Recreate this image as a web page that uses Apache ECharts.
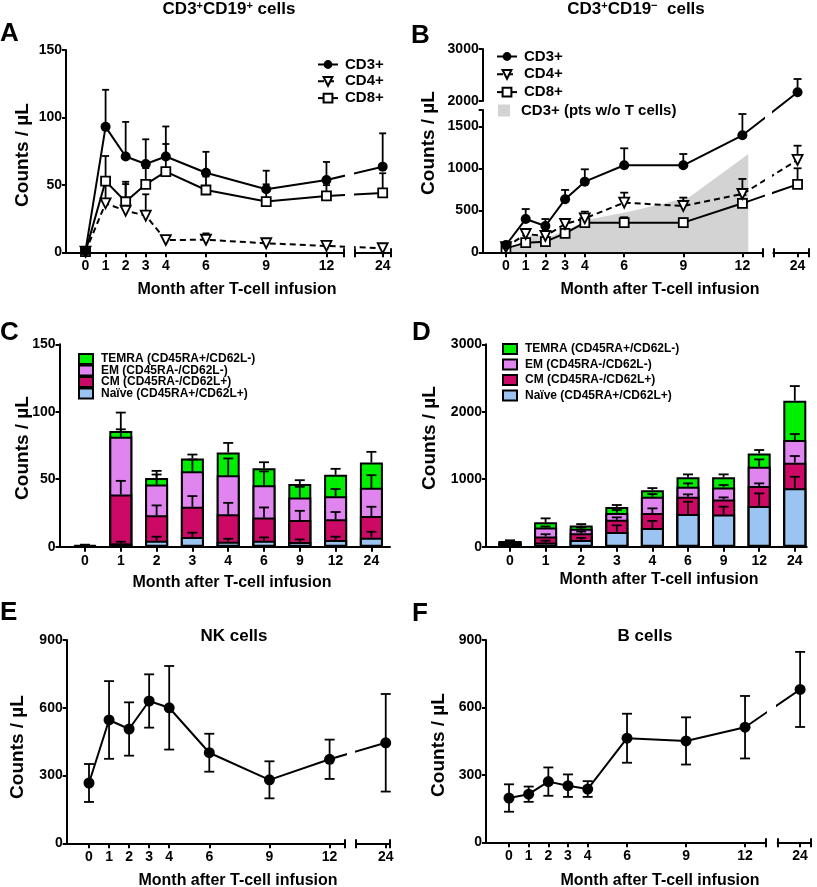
<!DOCTYPE html>
<html><head><meta charset="utf-8">
<script src="https://cdn.jsdelivr.net/npm/echarts@6/dist/echarts.min.js"></script>
<style>html,body{margin:0;padding:0;background:#fff}#c{width:817px;height:887px}</style>
</head><body><div id="c"></div>
<script>
// ---------------- DATA ----------------
const months = [0, 1, 2, 3, 4, 6, 9, 12, 24];
const monthLabels = ['0', '1', '2', '3', '4', '6', '9', '12', '24'];

// Panel A: CD3+CD19+ cells (mean, upper SEM)
const aCD3 = [1, 93, 71, 65.5, 71, 59, 46.7, 53.6, 63.5];
const aCD3sem = [0.5, 27.5, 25.7, 18.3, 22.3, 15.5, 13.8, 13.4, 24.7];
const aCD4 = [0.5, 36.3, 30.8, 27.2, 9.1, 9.3, 6.7, 4.7, 3];
const aCD4sem = [0.3, 17, 19.8, 15.8, 1, 4.7, 1.5, 1.5, 1];
const aCD8 = [0.5, 52.8, 37.5, 50.4, 59.8, 46.2, 37.6, 41.8, 44];
const aCD8sem = [0.3, 18.6, 14.8, 12, 20.5, 10, 12.8, 8, 14.6];

// Panel B: CD3+CD19- cells
const bCD3 = [87, 396, 313, 631, 841, 1036, 1036, 1393, 2167];
const bCD3sem = [20, 119, 83, 111, 147, 202, 134, 253, 256];
const bCD4 = [60, 218, 194, 337, 404, 591, 551, 694, 1099];
const bCD4sem = [15, 40, 30, 30, 80, 119, 100, 179, 170];
const bCD8 = [47, 115, 127, 226, 353, 353, 353, 583, 809];
const bCD8sem = [10, 20, 20, 30, 40, 64, 47, 100, 191];
const noTMonths = [0, 1, 2, 3, 4, 6, 9, 12];
const bNoT = [50, 210, 190, 290, 395, 485, 655, 1170];

// Panel C / D subsets (segment values, bottom to top) and upper SEM
const subsetNames = ['Naïve (CD45RA+/CD62L+)', 'CM (CD45RA-/CD62L+)', 'EM (CD45RA-/CD62L-)', 'TEMRA (CD45RA+/CD62L-)'];
const cNaive = [0.5, 2.5, 4.4, 7.2, 3.7, 4.4, 3.5, 5.0, 6.7];
const cCM    = [0.3, 36.2, 19.0, 22.4, 20.3, 17.3, 16.2, 15.3, 16.0];
const cEM    = [0.3, 42.7, 22.7, 26.4, 29.0, 23.9, 16.8, 17.0, 20.9];
const cTEMRA = [0.2, 4.4, 4.9, 9.4, 16.8, 12.6, 9.9, 16.0, 18.8];
const cNaiveSem = [0.1, 1.2, 3.0, 3.2, 2.2, 2.5, 1.9, 2.4, 4.4];
const cCMSem    = [0.1, 10.1, 7.2, 7.9, 8.5, 7.4, 6.9, 5.4, 6.9];
const cEMSem    = [0.1, 5.6, 7.4, 8.6, 12.4, 10.2, 7.9, 5.4, 9.4];
const cTEMRASem = [0.2, 13.6, 5.2, 2.9, 7.1, 4.4, 2.9, 4.4, 7.9];

const dNaive = [40, 64, 99, 218, 277, 484, 479, 603, 865];
const dCM    = [20, 86, 101, 182, 222, 257, 222, 296, 380];
const dEM    = [15, 135, 65, 100, 242, 148, 178, 287, 336];
const dTEMRA = [10, 76, 50, 90, 94, 139, 149, 197, 583];
const dNaiveSem = [5, 26, 31, 99, 105, 183, 114, 187, 172];
const dCMSem    = [5, 35, 25, 35, 69, 35, 30, 40, 99];
const dEMSem    = [5, 15, 20, 44, 39, 50, 35, 108, 89];
const dTEMRASem = [10, 59, 20, 28, 34, 44, 44, 50, 217];

// Panel E: NK cells, Panel F: B cells (mean, SEM both directions)
const eNK = [267, 546, 506, 630, 600, 401, 281, 372, 445];
const eNKsem = [84, 172, 118, 118, 185, 84, 82, 87, 216];
const fB = [197, 214, 270, 252, 237, 463, 451, 512, 680];
const fBsem = [61, 34, 63, 50, 35, 109, 105, 139, 167];

// ---------------- STYLE / LAYOUT ----------------
const FONT = '"Liberation Sans", Arial, Helvetica, sans-serif';
const BLACK = '#000';
const subsetColors = ['#9cc4f2', '#cc0a66', '#e085f0', '#00ee00'];
const AREA_NUDGE = 0.3;

// broken x axis: months beyond 12 are compressed
function xPos(m) { return m <= 12 ? m : 12 + (m - 12) * (2.8 / 12); }
function labelOf(v) {
  for (let i = 0; i < months.length; i++) if (Math.abs(xPos(months[i]) - v) < 1e-6) return monthLabels[i];
  return '';
}
// broken y axis in panel B (values above 2000 on a compressed upper segment)
function yB(v) { return v <= 1750 ? v : 1801 + (v - 2000) * 0.619; }

const L = {
  A: {axisX: 66, zeroX: 85.5, ppm: 20.08, seg1End: 344, seg2: [355, 391], top: 50, bottom: 252.3},
  B: {axisX: 482.7, zeroX: 506, ppm: 19.7, seg1End: 762.7, seg2: [773.3, 809], top: 49, bottom: 252.3},
  E: {axisX: 66.7, zeroX: 89, ppm: 20.05, seg1End: 345, seg2: [356, 390], top: 640, bottom: 843.3},
  F: {axisX: 486, zeroX: 509, ppm: 19.67, seg1End: 766, seg2: [777.7, 811], top: 640, bottom: 842.3},
  C: {axisX: 59.5, zeroX: 85, ppu: 35.8, right: 390, top: 344.3, bottom: 546.7},
  D: {axisX: 486, zeroX: 510, ppu: 35.6, right: 806.7, top: 344.3, bottom: 546.7}
};

const grid = [], xAxis = [], yAxis = [], series = [], graphic = [];
function addGrid(left, right, top, bottom) {
  grid.push({left: left, top: top, width: right - left, height: bottom - top, containLabel: false, outerBoundsMode: 'none'});
  return grid.length - 1;
}
function addX(o) { xAxis.push(o); return xAxis.length - 1; }
function addY(o) { yAxis.push(o); return yAxis.length - 1; }
const AXLINE = {show: true, onZero: false, lineStyle: {color: BLACK, width: 2}};
const TICKLS = {color: BLACK, width: 2};
const LBL = {color: BLACK, fontFamily: FONT, fontWeight: 'bold', fontSize: 14};
const plain = v => String(Math.round(v));

function hiddenX(g) { return addX({gridIndex: g, type: 'value', min: 0, max: 1, show: false}); }

function brokenPanel(P, yc) {
  const g1 = addGrid(P.axisX, P.seg1End, P.top, P.bottom);
  const g2 = addGrid(P.seg2[0], P.seg2[1], P.top, P.bottom);
  const toV = px => (px - P.zeroX) / P.ppm;
  const r1 = [toV(P.axisX), toV(P.seg1End)], r2 = [toV(P.seg2[0]), toV(P.seg2[1])];
  const early = months.filter(m => m <= 12).map(xPos);
  const late = months.filter(m => m > 12).map(xPos);
  const mk = (g, r, vals, ends) => addX({gridIndex: g, type: 'value', position: 'bottom', min: r[0], max: r[1],
    axisLine: AXLINE, splitLine: {show: false},
    axisTick: {show: true, length: 5, lineStyle: TICKLS, customValues: vals.concat(ends)},
    axisLabel: Object.assign({}, LBL, {margin: 7, customValues: vals, formatter: labelOf})});
  const inner = (g, r, ends) => addX({gridIndex: g, type: 'value', position: 'bottom', min: r[0], max: r[1],
    axisLine: {show: false}, splitLine: {show: false}, axisLabel: {show: false},
    axisTick: {show: true, inside: true, length: 4, lineStyle: TICKLS, customValues: ends}});
  const x1 = mk(g1, r1, early, [r1[1]]);
  const x2 = mk(g2, r2, late, [r2[0], r2[1]]);
  inner(g1, r1, [r1[1]]);
  inner(g2, r2, [r2[0], r2[1]]);
  const ybase = {type: 'value', min: yc.min, max: yc.max, splitLine: {show: false}, axisLine: AXLINE,
    axisTick: {show: true, length: 4, lineStyle: TICKLS}, axisLabel: Object.assign({}, LBL, {margin: 4, formatter: plain})};
  if (yc.interval) ybase.interval = yc.interval;
  const y1 = addY(Object.assign({gridIndex: g1, show: yc.show !== false}, ybase));
  const y2 = addY(Object.assign({gridIndex: g2, show: false}, ybase));
  return {x1, y1, x2, y2};
}

function errRender(capW, both) {
  return function (params, api) {
    const x = api.value(0);
    const pl = api.coord([x, api.value(1)]);
    const ph = api.coord([x, api.value(2)]);
    const st = () => ({stroke: BLACK, lineWidth: 1.8, fill: null});
    const ch = [
      {type: 'line', shape: {x1: pl[0], y1: pl[1], x2: ph[0], y2: ph[1]}, style: st()},
      {type: 'line', shape: {x1: ph[0] - capW / 2, y1: ph[1], x2: ph[0] + capW / 2, y2: ph[1]}, style: st()}
    ];
    if (both) ch.push({type: 'line', shape: {x1: pl[0] - capW / 2, y1: pl[1], x2: pl[0] + capW / 2, y2: pl[1]}, style: st()});
    return {type: 'group', children: ch};
  };
}

function lineSeries(ax, name, vals, style, ytf) {
  ytf = ytf || (v => v);
  const pts = months.map((m, i) => [xPos(m), ytf(vals[i])]);
  return [[ax.x1, ax.y1], [ax.x2, ax.y2]].map(p => Object.assign({
    type: 'line', name: name, xAxisIndex: p[0], yAxisIndex: p[1], data: pts, clip: true,
    z: 4, showAllSymbol: true, silent: true
  }, JSON.parse(JSON.stringify(style))));
}
function errSeries(ax, vals, sems, capW, both, ytf) {
  ytf = ytf || (v => v);
  const rows = months.map((m, i) => ({m: m, d: [xPos(m), ytf(both ? vals[i] - sems[i] : vals[i]), ytf(vals[i] + sems[i])]}));
  return [
    {type: 'custom', xAxisIndex: ax.x1, yAxisIndex: ax.y1, data: rows.filter(r => r.m <= 12).map(r => r.d), renderItem: errRender(capW, both), z: 3, silent: true},
    {type: 'custom', xAxisIndex: ax.x2, yAxisIndex: ax.y2, data: rows.filter(r => r.m > 12).map(r => r.d), renderItem: errRender(capW, both), z: 3, silent: true}
  ];
}

const S_CD3 = {symbol: 'circle', symbolSize: 10, itemStyle: {color: BLACK}, lineStyle: {color: BLACK, width: 2}};
const S_CD4 = {symbol: 'triangle', symbolRotate: 180, symbolSize: 10, itemStyle: {color: '#fff', borderColor: BLACK, borderWidth: 1.8}, lineStyle: {color: BLACK, width: 2, type: [6, 4]}};
const S_CD8 = {symbol: 'rect', symbolSize: 9, itemStyle: {color: '#fff', borderColor: BLACK, borderWidth: 1.8}, lineStyle: {color: BLACK, width: 2}};
const S_DOT = {symbol: 'circle', symbolSize: 11, itemStyle: {color: BLACK}, lineStyle: {color: BLACK, width: 2}};

// ---------- Panel A ----------
const axA = brokenPanel(L.A, {min: 0, max: 150, interval: 50});
series.push(...errSeries(axA, aCD8, aCD8sem, 7, false));
series.push(...errSeries(axA, aCD4, aCD4sem, 7, false));
series.push(...errSeries(axA, aCD3, aCD3sem, 7, false));
series.push(...lineSeries(axA, 'CD8+', aCD8, S_CD8));
series.push(...lineSeries(axA, 'CD4+', aCD4, S_CD4));
series.push(...lineSeries(axA, 'CD3+', aCD3, S_CD3));

// ---------- Panel B ----------
const axB = brokenPanel(L.B, {min: 0, max: yB(3000), show: false});
series.push({type: 'line', name: 'CD3+ (pts w/o T cells)', xAxisIndex: axB.x1, yAxisIndex: axB.y1,
  data: noTMonths.map((m, i) => [xPos(m) + AREA_NUDGE, bNoT[i]]), symbol: 'none', clip: true,
  lineStyle: {width: 0, color: '#d3d3d3'}, itemStyle: {color: '#d3d3d3'}, areaStyle: {color: '#d3d3d3', opacity: 1}, z: 1, silent: true});
series.push(...errSeries(axB, bCD8, bCD8sem, 8, false, yB));
series.push(...errSeries(axB, bCD4, bCD4sem, 8, false, yB));
series.push(...errSeries(axB, bCD3, bCD3sem, 8, false, yB));
series.push(...lineSeries(axB, 'CD8+', bCD8, S_CD8, yB));
series.push(...lineSeries(axB, 'CD4+', bCD4, S_CD4, yB));
series.push(...lineSeries(axB, 'CD3+', bCD3, S_CD3, yB));
// B: displayed broken y axis (two segments)
(function () {
  const lowTop = 110, upBottom = 101;
  const lowMax = (L.B.bottom - lowTop) / 0.084;
  const gLow = addGrid(L.B.axisX, L.B.axisX + 1, lowTop, L.B.bottom);
  const gUp = addGrid(L.B.axisX, L.B.axisX + 1, L.B.top, upBottom);
  hiddenX(gLow); hiddenX(gUp);
  const lowTicks = [0, 500, 1000, 1500];
  addY({gridIndex: gLow, type: 'value', min: 0, max: lowMax, axisLine: AXLINE, splitLine: {show: false},
    axisTick: {show: true, length: 4, lineStyle: TICKLS, customValues: lowTicks.concat([lowMax])},
    axisLabel: Object.assign({}, LBL, {margin: 4, customValues: lowTicks, formatter: plain})});
  addY({gridIndex: gLow, type: 'value', min: 0, max: lowMax, axisLine: {show: false}, splitLine: {show: false}, axisLabel: {show: false},
    axisTick: {show: true, inside: true, length: 4, lineStyle: TICKLS, customValues: [lowMax]}});
  addY({gridIndex: gUp, type: 'value', min: 2000, max: 3000, interval: 1000, axisLine: AXLINE, splitLine: {show: false},
    axisTick: {show: true, length: 4, lineStyle: TICKLS}, axisLabel: Object.assign({}, LBL, {margin: 4, formatter: plain})});
  addY({gridIndex: gUp, type: 'value', min: 2000, max: 3000, axisLine: {show: false}, splitLine: {show: false}, axisLabel: {show: false},
    axisTick: {show: true, inside: true, length: 4, lineStyle: TICKLS, customValues: [2000]}});
})();

// ---------- Panels C & D (stacked bars, drawn as overlapping cumulative bars) ----------
function barPanel(P, yMax, yInterval, segs, sems) {
  const g = addGrid(P.axisX, P.right, P.top, P.bottom);
  const toV = px => (px - P.zeroX) / P.ppu;
  const idx = months.map((m, i) => i);
  const x = addX({gridIndex: g, type: 'value', min: toV(P.axisX), max: toV(P.right), axisLine: AXLINE, splitLine: {show: false},
    axisTick: {show: true, length: 5, lineStyle: TICKLS, customValues: idx},
    axisLabel: Object.assign({}, LBL, {margin: 7, customValues: idx, formatter: v => monthLabels[Math.round(v)]})});
  const y = addY({gridIndex: g, type: 'value', min: 0, max: yMax, interval: yInterval, axisLine: AXLINE, splitLine: {show: false},
    axisTick: {show: true, length: 4, lineStyle: TICKLS}, axisLabel: Object.assign({}, LBL, {margin: 4, formatter: plain})});
  let run = idx.map(() => 0);
  const cums = [];
  const errData = [];
  segs.forEach((seg, k) => {
    run = run.map((r, i) => r + seg[i]);
    cums.push(run.slice());
    run.forEach((c, i) => errData.push([i, c, c + sems[k][i]]));
  });
  for (let k = segs.length - 1; k >= 0; k--) {
    series.push({type: 'bar', name: subsetNames[k], xAxisIndex: x, yAxisIndex: y, barWidth: 23, barGap: '-100%',
      data: cums[k].map((v, i) => [i, v]), itemStyle: {color: subsetColors[k], borderColor: BLACK, borderWidth: 2}, z: 2, silent: true});
  }
  series.push({type: 'custom', xAxisIndex: x, yAxisIndex: y, data: errData, renderItem: errRender(10, false), z: 5, silent: true});
}
barPanel(L.C, 150, 50, [cNaive, cCM, cEM, cTEMRA], [cNaiveSem, cCMSem, cEMSem, cTEMRASem]);
barPanel(L.D, 3000, 1000, [dNaive, dCM, dEM, dTEMRA], [dNaiveSem, dCMSem, dEMSem, dTEMRASem]);

// ---------- Panels E & F ----------
const axE = brokenPanel(L.E, {min: 0, max: 900, interval: 300});
series.push(...errSeries(axE, eNK, eNKsem, 10, true));
series.push(...lineSeries(axE, 'NK cells', eNK, S_DOT));
const axF = brokenPanel(L.F, {min: 0, max: 900, interval: 300});
series.push(...errSeries(axF, fB, fBsem, 10, true));
series.push(...lineSeries(axF, 'B cells', fB, S_DOT));

// ---------- Texts ----------
function T(text, x, y, size, extra) {
  const o = {type: 'text', x: x, y: y, z: 10, silent: true,
    style: {text: text, font: 'bold ' + size + 'px ' + FONT, fill: BLACK, align: 'center', verticalAlign: 'middle',
      textAlign: 'center', textVerticalAlign: 'middle'}};
  if (extra) { if (extra.style) Object.assign(o.style, extra.style); if (extra.rotation) o.rotation = extra.rotation; }
  graphic.push(o);
}
const supRich = {s: {fontSize: 11, fontWeight: 'bold', fontFamily: FONT, verticalAlign: 'top', lineHeight: 18}, n: {fontSize: 17, fontWeight: 'bold', fontFamily: FONT, lineHeight: 18}};
T('{n|CD3}{s|+}{n|CD19}{s|+}{n| cells}', 229, 9, 17, {style: {rich: supRich}});
T('{n|CD3}{s|+}{n|CD19}{s|−}{n|  cells}', 636, 9, 17, {style: {rich: supRich}});
const letters = [['A', 0, 34], ['B', 411, 35.5], ['C', 0, 333], ['D', 412, 332.5], ['E', 0, 613], ['F', 412, 614]];
letters.forEach(l => T(l[0], l[1], l[2], 26, {style: {align: 'left', textAlign: 'left'}}));
const xt = 'Month after T-cell infusion';
[[237, 290], [660, 290], [232, 583], [659, 580], [238, 881], [660, 881]].forEach(p => T(xt, p[0], p[1], 16));
const yt = 'Counts / µL';
[[23, 155], [429, 143], [23, 448], [430, 438], [18, 747], [439, 745]].forEach(p => T(yt, p[0], p[1], 19, {rotation: Math.PI / 2}));
T('NK cells', 234, 636, 17);
T('B cells', 645, 636, 17);

// ---------- Legends ----------
const LT = {color: BLACK, fontFamily: FONT, fontWeight: 'bold'};
const legend = [
  {left: 312, top: 52, orient: 'vertical', selectedMode: false, itemWidth: 20, itemHeight: 11, itemGap: 1.8,
    textStyle: Object.assign({fontSize: 15, padding: [0, 0, 0, 2]}, LT), data: ['CD3+', 'CD4+', 'CD8+']},
  {left: 491, top: 44, orient: 'vertical', selectedMode: false, itemWidth: 20, itemHeight: 11, itemGap: 2.8,
    textStyle: Object.assign({fontSize: 15, padding: [0, 0, 0, 2]}, LT), data: ['CD3+', 'CD4+', 'CD8+']},
  {left: 493, top: 98, orient: 'vertical', selectedMode: false, itemWidth: 12, itemHeight: 12,
    textStyle: Object.assign({fontSize: 15, padding: [0, 0, 0, 6]}, LT), data: [{name: 'CD3+ (pts w/o T cells)', icon: 'rect'}]},
  {left: 73, top: 348, orient: 'vertical', selectedMode: false, icon: 'rect', itemWidth: 14, itemHeight: 10, itemGap: -0.5,
    textStyle: Object.assign({fontSize: 12, padding: [0, 0, 0, 3]}, LT), data: subsetNames.slice().reverse()},
  {left: 497, top: 338, orient: 'vertical', selectedMode: false, icon: 'rect', itemWidth: 14, itemHeight: 10, itemGap: 3.5,
    textStyle: Object.assign({fontSize: 12, padding: [0, 0, 0, 3]}, LT), data: subsetNames.slice().reverse()}
];

const chart = echarts.init(document.getElementById('c'), null, {renderer: 'canvas', width: 817, height: 887});
chart.setOption({
  animation: false,
  backgroundColor: '#fff',
  textStyle: {fontFamily: FONT},
  grid: grid, xAxis: xAxis, yAxis: yAxis, series: series, legend: legend, graphic: graphic,
  tooltip: {show: false}
});
</script>
</body></html>
